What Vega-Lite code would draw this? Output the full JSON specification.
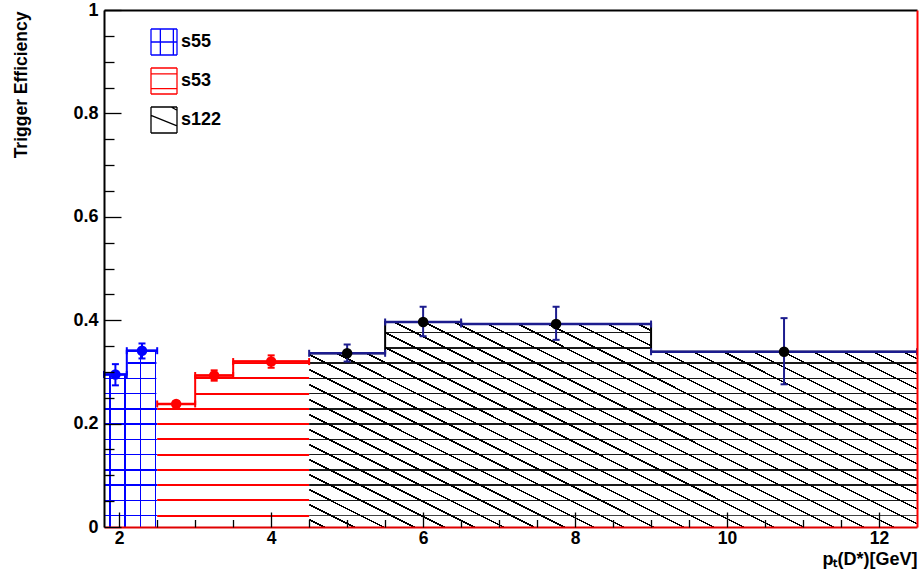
{
  "$schema": "https://vega.github.io/schema/vega-lite/v6.json",
  "width": 813,
  "height": 517,
  "autosize": {"type": "none"},
  "padding": {"left": 104, "top": 10, "right": 4, "bottom": 47},
  "background": "white",
  "config": {
    "view": {"stroke": null},
    "font": "Liberation Sans"
  },
  "datasets": {
    "bins": [
      {"series": "s55", "lo": 1.8, "hi": 2.1, "center": 1.95, "eff": 0.295, "low": 0.274, "high": 0.315},
      {"series": "s55", "lo": 2.1, "hi": 2.5, "center": 2.3, "eff": 0.341, "low": 0.326, "high": 0.355},
      {"series": "s53", "lo": 2.5, "hi": 3.0, "center": 2.75, "eff": 0.238, "low": 0.233, "high": 0.243},
      {"series": "s53", "lo": 3.0, "hi": 3.5, "center": 3.25, "eff": 0.293, "low": 0.283, "high": 0.303},
      {"series": "s53", "lo": 3.5, "hi": 4.5, "center": 4.0, "eff": 0.320, "low": 0.308, "high": 0.332},
      {"series": "s122", "lo": 4.5, "hi": 5.5, "center": 5.0, "eff": 0.336, "low": 0.320, "high": 0.353},
      {"series": "s122", "lo": 5.5, "hi": 6.5, "center": 6.0, "eff": 0.3965, "low": 0.369, "high": 0.426},
      {"series": "s122", "lo": 6.5, "hi": 9.0, "center": 7.75, "eff": 0.3926, "low": 0.362, "high": 0.426},
      {"series": "s122", "lo": 9.0, "hi": 12.5, "center": 10.75, "eff": 0.339, "low": 0.276, "high": 0.404}
    ],
    "regions": [
      {"series": "s55", "lo": 1.8, "hi": 2.5},
      {"series": "s53", "lo": 2.5, "hi": 4.5},
      {"series": "s122", "lo": 4.5, "hi": 12.5}
    ]
  },
  "layer": [
    {
      "data": {"name": "regions"},
      "mark": {"type": "point", "filled": false, "size": 676, "strokeWidth": 1.3, "opacity": 1, "clip": true},
      "encoding": {
        "x": {"field": "lo", "type": "quantitative", "scale": {"domain": [1.8, 12.5], "nice": false, "zero": false}, "axis": null},
        "y": {"datum": -1, "type": "quantitative", "scale": {"domain": [0, 1], "nice": false, "zero": false}, "axis": null},
        "color": {"field": "series", "type": "nominal",
          "scale": {"domain": ["s55", "s53", "s122"], "range": ["#0000ff", "#ff0000", "#000000"]},
          "legend": {"orient": "none", "legendX": 46, "legendY": 18, "title": null, "padding": 0,
            "symbolSize": 676, "symbolStrokeWidth": 1.3, "symbolFillColor": "white",
            "labelFont": "Liberation Sans", "labelFontWeight": "bold", "labelFontSize": 18, "labelColor": "black", "labelOffset": 3, "rowPadding": 7}},
        "shape": {"field": "series", "type": "nominal",
          "scale": {"domain": ["s55", "s53", "s122"], "range": [
            "M-1,-1H1M1,-1V1M1,1H-1M-1,1V-1M-0.28,-1V1M0.72,-1V1M-1,0H1",
            "M-1,-1H1M1,-1V1M1,1H-1M-1,1V-1M-1,-0.55H1M-1,0.58H1",
            "M-1,-1H1M1,-1V1M1,1H-1M-1,1V-1M-1,-0.35L1,0.45M0.55,-1L1,-0.75"]},
          "legend": {"orient": "none", "legendX": 46, "legendY": 18, "title": null, "padding": 0,
            "symbolSize": 676, "symbolStrokeWidth": 1.3, "symbolFillColor": "white",
            "labelFont": "Liberation Sans", "labelFontWeight": "bold", "labelFontSize": 18, "labelColor": "black", "labelOffset": 3, "rowPadding": 7}}
      }
    },
    {
      "data": {"name": "regions"},
      "transform": [{"filter": "datum.series === 's55'"}],
      "mark": {"type": "rect", "fill": {"gradient": "linear", "x1": 0, "y1": 1, "x2": 0, "y2": 0, "stops": [
        {"offset": 0, "color": "rgba(0,0,0,0)"},
        {"offset": 0.0204, "color": "rgba(0,0,0,0)"},{"offset": 0.0204, "color": "#0000ff"},{"offset": 0.0234, "color": "#0000ff"},{"offset": 0.0234, "color": "rgba(0,0,0,0)"},
        {"offset": 0.0499, "color": "rgba(0,0,0,0)"},{"offset": 0.0499, "color": "#0000ff"},{"offset": 0.0529, "color": "#0000ff"},{"offset": 0.0529, "color": "rgba(0,0,0,0)"},
        {"offset": 0.0794, "color": "rgba(0,0,0,0)"},{"offset": 0.0794, "color": "#0000ff"},{"offset": 0.0824, "color": "#0000ff"},{"offset": 0.0824, "color": "rgba(0,0,0,0)"},
        {"offset": 0.1089, "color": "rgba(0,0,0,0)"},{"offset": 0.1089, "color": "#0000ff"},{"offset": 0.1119, "color": "#0000ff"},{"offset": 0.1119, "color": "rgba(0,0,0,0)"},
        {"offset": 0.1384, "color": "rgba(0,0,0,0)"},{"offset": 0.1384, "color": "#0000ff"},{"offset": 0.1414, "color": "#0000ff"},{"offset": 0.1414, "color": "rgba(0,0,0,0)"},
        {"offset": 0.1679, "color": "rgba(0,0,0,0)"},{"offset": 0.1679, "color": "#0000ff"},{"offset": 0.1709, "color": "#0000ff"},{"offset": 0.1709, "color": "rgba(0,0,0,0)"},
        {"offset": 0.1974, "color": "rgba(0,0,0,0)"},{"offset": 0.1974, "color": "#0000ff"},{"offset": 0.2004, "color": "#0000ff"},{"offset": 0.2004, "color": "rgba(0,0,0,0)"},
        {"offset": 0.2269, "color": "rgba(0,0,0,0)"},{"offset": 0.2269, "color": "#0000ff"},{"offset": 0.2299, "color": "#0000ff"},{"offset": 0.2299, "color": "rgba(0,0,0,0)"},
        {"offset": 0.2564, "color": "rgba(0,0,0,0)"},{"offset": 0.2564, "color": "#0000ff"},{"offset": 0.2594, "color": "#0000ff"},{"offset": 0.2594, "color": "rgba(0,0,0,0)"},
        {"offset": 0.2859, "color": "rgba(0,0,0,0)"},{"offset": 0.2859, "color": "#0000ff"},{"offset": 0.2889, "color": "#0000ff"},{"offset": 0.2889, "color": "rgba(0,0,0,0)"},
        {"offset": 0.3154, "color": "rgba(0,0,0,0)"},{"offset": 0.3154, "color": "#0000ff"},{"offset": 0.3184, "color": "#0000ff"},{"offset": 0.3184, "color": "rgba(0,0,0,0)"},
        {"offset": 0.3449, "color": "rgba(0,0,0,0)"},{"offset": 0.3449, "color": "#0000ff"},{"offset": 0.3479, "color": "#0000ff"},{"offset": 0.3479, "color": "rgba(0,0,0,0)"},
        {"offset": 1, "color": "rgba(0,0,0,0)"}
      ]}},
      "encoding": {
        "x": {"field": "lo", "type": "quantitative", "scale": {"domain": [1.8, 12.5], "nice": false, "zero": false},
          "axis": {"orient": "bottom", "values": [2, 4, 6, 8, 10, 12], "ticks": false, "tickSize": 0, "grid": false, "domain": true, "domainColor": "#e00000", "domainWidth": 2, "labelFontSize": 17.5, "labelFontWeight": "bold", "labelColor": "black", "labelPadding": 2, "labelFlush": false, "zindex": 1,
            "title": "pₜ(D*)[GeV]", "titleFontSize": 18, "titleFontWeight": "bold", "titleColor": "black", "titleAnchor": "end", "titleAlign": "right", "titleBaseline": "alphabetic", "titleX": 813, "titleY": 37}},
        "x2": {"field": "hi"},
        "y": {"datum": 0, "type": "quantitative", "scale": {"domain": [0, 1], "nice": false, "zero": false},
          "axis": {"orient": "left", "values": [0, 0.2, 0.4, 0.6, 0.8, 1], "format": "~g", "ticks": false, "tickSize": 0, "grid": false, "domain": true, "domainColor": "black", "domainWidth": 2, "labelFontSize": 18, "labelFontWeight": "bold", "labelColor": "black", "labelPadding": 6, "labelFlush": false, "zindex": 1,
            "title": "Trigger Efficiency", "titleFontSize": 17.5, "titleFontWeight": "bold", "titleColor": "black", "titleAngle": -90, "titleAlign": "right", "titleBaseline": "middle", "titleX": -83, "titleY": 1}},
        "y2": {"datum": 1}
      }
    },
    {
      "data": {"name": "regions"},
      "transform": [{"filter": "datum.series === 's53'"}],
      "mark": {"type": "rect", "fill": {"gradient": "linear", "x1": 0, "y1": 1, "x2": 0, "y2": 0, "stops": [
        {"offset": 0, "color": "rgba(0,0,0,0)"},
        {"offset": 0.0199, "color": "rgba(0,0,0,0)"},{"offset": 0.0199, "color": "#ff0000"},{"offset": 0.0239, "color": "#ff0000"},{"offset": 0.0239, "color": "rgba(0,0,0,0)"},
        {"offset": 0.0494, "color": "rgba(0,0,0,0)"},{"offset": 0.0494, "color": "#ff0000"},{"offset": 0.0534, "color": "#ff0000"},{"offset": 0.0534, "color": "rgba(0,0,0,0)"},
        {"offset": 0.0789, "color": "rgba(0,0,0,0)"},{"offset": 0.0789, "color": "#ff0000"},{"offset": 0.0829, "color": "#ff0000"},{"offset": 0.0829, "color": "rgba(0,0,0,0)"},
        {"offset": 0.1084, "color": "rgba(0,0,0,0)"},{"offset": 0.1084, "color": "#ff0000"},{"offset": 0.1124, "color": "#ff0000"},{"offset": 0.1124, "color": "rgba(0,0,0,0)"},
        {"offset": 0.1379, "color": "rgba(0,0,0,0)"},{"offset": 0.1379, "color": "#ff0000"},{"offset": 0.1419, "color": "#ff0000"},{"offset": 0.1419, "color": "rgba(0,0,0,0)"},
        {"offset": 0.1674, "color": "rgba(0,0,0,0)"},{"offset": 0.1674, "color": "#ff0000"},{"offset": 0.1714, "color": "#ff0000"},{"offset": 0.1714, "color": "rgba(0,0,0,0)"},
        {"offset": 0.1969, "color": "rgba(0,0,0,0)"},{"offset": 0.1969, "color": "#ff0000"},{"offset": 0.2009, "color": "#ff0000"},{"offset": 0.2009, "color": "rgba(0,0,0,0)"},
        {"offset": 0.2264, "color": "rgba(0,0,0,0)"},{"offset": 0.2264, "color": "#ff0000"},{"offset": 0.2304, "color": "#ff0000"},{"offset": 0.2304, "color": "rgba(0,0,0,0)"},
        {"offset": 0.2559, "color": "rgba(0,0,0,0)"},{"offset": 0.2559, "color": "#ff0000"},{"offset": 0.2599, "color": "#ff0000"},{"offset": 0.2599, "color": "rgba(0,0,0,0)"},
        {"offset": 0.2854, "color": "rgba(0,0,0,0)"},{"offset": 0.2854, "color": "#ff0000"},{"offset": 0.2894, "color": "#ff0000"},{"offset": 0.2894, "color": "rgba(0,0,0,0)"},
        {"offset": 0.3149, "color": "rgba(0,0,0,0)"},{"offset": 0.3149, "color": "#ff0000"},{"offset": 0.3189, "color": "#ff0000"},{"offset": 0.3189, "color": "rgba(0,0,0,0)"},
        {"offset": 1, "color": "rgba(0,0,0,0)"}
      ]}},
      "encoding": {
        "x": {"field": "lo", "type": "quantitative", "scale": {"domain": [1.8, 12.5], "nice": false, "zero": false},
          "axis": {"orient": "bottom", "values": [2, 4, 6, 8, 10, 12], "labels": false, "domain": false, "ticks": true, "tickSize": -15, "tickColor": "black", "tickWidth": 1.3, "grid": false, "title": null, "zindex": 1}},
        "x2": {"field": "hi"},
        "y": {"datum": 0, "type": "quantitative", "scale": {"domain": [0, 1], "nice": false, "zero": false},
          "axis": {"orient": "left", "values": [0, 0.2, 0.4, 0.6, 0.8, 1], "labels": false, "domain": false, "ticks": true, "tickSize": -17, "tickColor": "black", "tickWidth": 1.3, "grid": false, "title": null, "zindex": 1}},
        "y2": {"datum": 1}
      }
    },
    {
      "data": {"name": "regions"},
      "transform": [{"filter": "datum.series === 's122'"}],
      "mark": {"type": "rect", "fill": {"gradient": "linear", "x1": 0, "y1": 1, "x2": 0, "y2": 0, "stops": [
        {"offset": 0, "color": "rgba(0,0,0,0)"},
        {"offset": 0.0204, "color": "rgba(0,0,0,0)"},{"offset": 0.0204, "color": "#444444"},{"offset": 0.0234, "color": "#444444"},{"offset": 0.0234, "color": "rgba(0,0,0,0)"},
        {"offset": 0.0499, "color": "rgba(0,0,0,0)"},{"offset": 0.0499, "color": "#1a1a1a"},{"offset": 0.0529, "color": "#1a1a1a"},{"offset": 0.0529, "color": "rgba(0,0,0,0)"},
        {"offset": 0.0794, "color": "rgba(0,0,0,0)"},{"offset": 0.0794, "color": "#1a1a1a"},{"offset": 0.0824, "color": "#1a1a1a"},{"offset": 0.0824, "color": "rgba(0,0,0,0)"},
        {"offset": 0.1089, "color": "rgba(0,0,0,0)"},{"offset": 0.1089, "color": "#1a1a1a"},{"offset": 0.1119, "color": "#1a1a1a"},{"offset": 0.1119, "color": "rgba(0,0,0,0)"},
        {"offset": 0.1384, "color": "rgba(0,0,0,0)"},{"offset": 0.1384, "color": "#1a1a1a"},{"offset": 0.1414, "color": "#1a1a1a"},{"offset": 0.1414, "color": "rgba(0,0,0,0)"},
        {"offset": 0.1679, "color": "rgba(0,0,0,0)"},{"offset": 0.1679, "color": "#1a1a1a"},{"offset": 0.1709, "color": "#1a1a1a"},{"offset": 0.1709, "color": "rgba(0,0,0,0)"},
        {"offset": 0.1974, "color": "rgba(0,0,0,0)"},{"offset": 0.1974, "color": "#1a1a1a"},{"offset": 0.2004, "color": "#1a1a1a"},{"offset": 0.2004, "color": "rgba(0,0,0,0)"},
        {"offset": 0.2269, "color": "rgba(0,0,0,0)"},{"offset": 0.2269, "color": "#1a1a1a"},{"offset": 0.2299, "color": "#1a1a1a"},{"offset": 0.2299, "color": "rgba(0,0,0,0)"},
        {"offset": 0.2564, "color": "rgba(0,0,0,0)"},{"offset": 0.2564, "color": "#1a1a1a"},{"offset": 0.2594, "color": "#1a1a1a"},{"offset": 0.2594, "color": "rgba(0,0,0,0)"},
        {"offset": 0.2859, "color": "rgba(0,0,0,0)"},{"offset": 0.2859, "color": "#1a1a1a"},{"offset": 0.2889, "color": "#1a1a1a"},{"offset": 0.2889, "color": "rgba(0,0,0,0)"},
        {"offset": 0.3154, "color": "rgba(0,0,0,0)"},{"offset": 0.3154, "color": "#1a1a1a"},{"offset": 0.3184, "color": "#1a1a1a"},{"offset": 0.3184, "color": "rgba(0,0,0,0)"},
        {"offset": 0.3449, "color": "rgba(0,0,0,0)"},{"offset": 0.3449, "color": "#1a1a1a"},{"offset": 0.3479, "color": "#1a1a1a"},{"offset": 0.3479, "color": "rgba(0,0,0,0)"},
        {"offset": 0.3744, "color": "rgba(0,0,0,0)"},{"offset": 0.3744, "color": "#1a1a1a"},{"offset": 0.3774, "color": "#1a1a1a"},{"offset": 0.3774, "color": "rgba(0,0,0,0)"},
        {"offset": 1, "color": "rgba(0,0,0,0)"}
      ]}},
      "encoding": {
        "x": {"field": "lo", "type": "quantitative", "scale": {"domain": [1.8, 12.5], "nice": false, "zero": false},
          "axis": {"orient": "bottom", "values": [2.5, 3, 3.5, 4.5, 5, 5.5, 6.5, 7, 7.5, 8.5, 9, 9.5, 10.5, 11, 11.5], "labels": false, "domain": false, "ticks": true, "tickSize": -7.5, "tickColor": "black", "tickWidth": 1.3, "grid": false, "title": null, "zindex": 1}},
        "x2": {"field": "hi"},
        "y": {"datum": 0, "type": "quantitative", "scale": {"domain": [0, 1], "nice": false, "zero": false},
          "axis": {"orient": "left", "values": [0.05, 0.1, 0.15, 0.25, 0.3, 0.35, 0.45, 0.5, 0.55, 0.65, 0.7, 0.75, 0.85, 0.9, 0.95], "labels": false, "domain": false, "ticks": true, "tickSize": -10, "tickColor": "black", "tickWidth": 1.3, "grid": false, "title": null, "zindex": 1}},
        "y2": {"datum": 1}
      }
    },
    {
      "data": {"name": "regions"},
      "transform": [{"filter": "datum.series === 's55'"}],
      "mark": {"type": "rect", "fill": {"gradient": "linear", "x1": 0, "y1": 0, "x2": 1, "y2": 0, "stops": [
        {"offset": 0, "color": "rgba(0,0,0,0)"},
        {"offset": 0.097, "color": "rgba(0,0,0,0)"},{"offset": 0.097, "color": "#0000ff"},{"offset": 0.125, "color": "#0000ff"},{"offset": 0.125, "color": "rgba(0,0,0,0)"},
        {"offset": 0.379, "color": "rgba(0,0,0,0)"},{"offset": 0.379, "color": "#0000ff"},{"offset": 0.407, "color": "#0000ff"},{"offset": 0.407, "color": "rgba(0,0,0,0)"},
        {"offset": 0.674, "color": "rgba(0,0,0,0)"},{"offset": 0.674, "color": "#0000ff"},{"offset": 0.702, "color": "#0000ff"},{"offset": 0.702, "color": "rgba(0,0,0,0)"},
        {"offset": 0.956, "color": "rgba(0,0,0,0)"},{"offset": 0.956, "color": "#0000ff"},{"offset": 0.984, "color": "#0000ff"},{"offset": 0.984, "color": "rgba(0,0,0,0)"},
        {"offset": 1, "color": "rgba(0,0,0,0)"}
      ]}},
      "encoding": {
        "x": {"field": "lo", "type": "quantitative", "scale": {"domain": [1.8, 12.5], "nice": false, "zero": false},
          "axis": {"orient": "top", "labels": false, "ticks": false, "grid": false, "domain": true, "domainColor": "black", "domainWidth": 2, "title": null, "zindex": 1}},
        "x2": {"field": "hi"},
        "y": {"datum": 0, "type": "quantitative", "scale": {"domain": [0, 1], "nice": false, "zero": false},
          "axis": {"orient": "right", "labels": false, "ticks": false, "grid": false, "domain": true, "domainColor": "#ff0000", "domainWidth": 2, "title": null, "zindex": 1}},
        "y2": {"datum": 1}
      }
    },
    {
      "data": {"name": "regions"},
      "transform": [{"filter": "datum.series === 's122'"}],
      "mark": {"type": "rect", "fill": {"gradient": "linear", "x1": 0, "y1": 1, "x2": 0.694, "y2": -0.18, "stops": [
        {"offset": 0, "color": "rgba(0,0,0,0)"},
        {"offset": 0.0080, "color": "rgba(0,0,0,0)"},{"offset": 0.0080, "color": "#000000"},{"offset": 0.0100, "color": "#000000"},{"offset": 0.0100, "color": "rgba(0,0,0,0)"},
        {"offset": 0.0263, "color": "rgba(0,0,0,0)"},{"offset": 0.0263, "color": "#000000"},{"offset": 0.0283, "color": "#000000"},{"offset": 0.0283, "color": "rgba(0,0,0,0)"},
        {"offset": 0.0445, "color": "rgba(0,0,0,0)"},{"offset": 0.0445, "color": "#000000"},{"offset": 0.0465, "color": "#000000"},{"offset": 0.0465, "color": "rgba(0,0,0,0)"},
        {"offset": 0.0628, "color": "rgba(0,0,0,0)"},{"offset": 0.0628, "color": "#000000"},{"offset": 0.0648, "color": "#000000"},{"offset": 0.0648, "color": "rgba(0,0,0,0)"},
        {"offset": 0.0811, "color": "rgba(0,0,0,0)"},{"offset": 0.0811, "color": "#000000"},{"offset": 0.0831, "color": "#000000"},{"offset": 0.0831, "color": "rgba(0,0,0,0)"},
        {"offset": 0.0994, "color": "rgba(0,0,0,0)"},{"offset": 0.0994, "color": "#000000"},{"offset": 0.1014, "color": "#000000"},{"offset": 0.1014, "color": "rgba(0,0,0,0)"},
        {"offset": 0.1176, "color": "rgba(0,0,0,0)"},{"offset": 0.1176, "color": "#000000"},{"offset": 0.1196, "color": "#000000"},{"offset": 0.1196, "color": "rgba(0,0,0,0)"},
        {"offset": 0.1359, "color": "rgba(0,0,0,0)"},{"offset": 0.1359, "color": "#000000"},{"offset": 0.1379, "color": "#000000"},{"offset": 0.1379, "color": "rgba(0,0,0,0)"},
        {"offset": 0.1542, "color": "rgba(0,0,0,0)"},{"offset": 0.1542, "color": "#000000"},{"offset": 0.1562, "color": "#000000"},{"offset": 0.1562, "color": "rgba(0,0,0,0)"},
        {"offset": 0.1724, "color": "rgba(0,0,0,0)"},{"offset": 0.1724, "color": "#000000"},{"offset": 0.1744, "color": "#000000"},{"offset": 0.1744, "color": "rgba(0,0,0,0)"},
        {"offset": 0.1907, "color": "rgba(0,0,0,0)"},{"offset": 0.1907, "color": "#000000"},{"offset": 0.1927, "color": "#000000"},{"offset": 0.1927, "color": "rgba(0,0,0,0)"},
        {"offset": 0.2090, "color": "rgba(0,0,0,0)"},{"offset": 0.2090, "color": "#000000"},{"offset": 0.2110, "color": "#000000"},{"offset": 0.2110, "color": "rgba(0,0,0,0)"},
        {"offset": 0.2272, "color": "rgba(0,0,0,0)"},{"offset": 0.2272, "color": "#000000"},{"offset": 0.2292, "color": "#000000"},{"offset": 0.2292, "color": "rgba(0,0,0,0)"},
        {"offset": 0.2455, "color": "rgba(0,0,0,0)"},{"offset": 0.2455, "color": "#000000"},{"offset": 0.2475, "color": "#000000"},{"offset": 0.2475, "color": "rgba(0,0,0,0)"},
        {"offset": 0.2638, "color": "rgba(0,0,0,0)"},{"offset": 0.2638, "color": "#000000"},{"offset": 0.2658, "color": "#000000"},{"offset": 0.2658, "color": "rgba(0,0,0,0)"},
        {"offset": 0.2821, "color": "rgba(0,0,0,0)"},{"offset": 0.2821, "color": "#000000"},{"offset": 0.2841, "color": "#000000"},{"offset": 0.2841, "color": "rgba(0,0,0,0)"},
        {"offset": 0.3003, "color": "rgba(0,0,0,0)"},{"offset": 0.3003, "color": "#000000"},{"offset": 0.3023, "color": "#000000"},{"offset": 0.3023, "color": "rgba(0,0,0,0)"},
        {"offset": 0.3186, "color": "rgba(0,0,0,0)"},{"offset": 0.3186, "color": "#000000"},{"offset": 0.3206, "color": "#000000"},{"offset": 0.3206, "color": "rgba(0,0,0,0)"},
        {"offset": 0.3369, "color": "rgba(0,0,0,0)"},{"offset": 0.3369, "color": "#000000"},{"offset": 0.3389, "color": "#000000"},{"offset": 0.3389, "color": "rgba(0,0,0,0)"},
        {"offset": 0.3551, "color": "rgba(0,0,0,0)"},{"offset": 0.3551, "color": "#000000"},{"offset": 0.3571, "color": "#000000"},{"offset": 0.3571, "color": "rgba(0,0,0,0)"},
        {"offset": 0.3734, "color": "rgba(0,0,0,0)"},{"offset": 0.3734, "color": "#000000"},{"offset": 0.3754, "color": "#000000"},{"offset": 0.3754, "color": "rgba(0,0,0,0)"},
        {"offset": 0.3917, "color": "rgba(0,0,0,0)"},{"offset": 0.3917, "color": "#000000"},{"offset": 0.3937, "color": "#000000"},{"offset": 0.3937, "color": "rgba(0,0,0,0)"},
        {"offset": 0.4099, "color": "rgba(0,0,0,0)"},{"offset": 0.4099, "color": "#000000"},{"offset": 0.4119, "color": "#000000"},{"offset": 0.4119, "color": "rgba(0,0,0,0)"},
        {"offset": 0.4282, "color": "rgba(0,0,0,0)"},{"offset": 0.4282, "color": "#000000"},{"offset": 0.4302, "color": "#000000"},{"offset": 0.4302, "color": "rgba(0,0,0,0)"},
        {"offset": 0.4465, "color": "rgba(0,0,0,0)"},{"offset": 0.4465, "color": "#000000"},{"offset": 0.4485, "color": "#000000"},{"offset": 0.4485, "color": "rgba(0,0,0,0)"},
        {"offset": 0.4648, "color": "rgba(0,0,0,0)"},{"offset": 0.4648, "color": "#000000"},{"offset": 0.4668, "color": "#000000"},{"offset": 0.4668, "color": "rgba(0,0,0,0)"},
        {"offset": 0.4830, "color": "rgba(0,0,0,0)"},{"offset": 0.4830, "color": "#000000"},{"offset": 0.4850, "color": "#000000"},{"offset": 0.4850, "color": "rgba(0,0,0,0)"},
        {"offset": 0.5013, "color": "rgba(0,0,0,0)"},{"offset": 0.5013, "color": "#000000"},{"offset": 0.5033, "color": "#000000"},{"offset": 0.5033, "color": "rgba(0,0,0,0)"},
        {"offset": 0.5196, "color": "rgba(0,0,0,0)"},{"offset": 0.5196, "color": "#000000"},{"offset": 0.5216, "color": "#000000"},{"offset": 0.5216, "color": "rgba(0,0,0,0)"},
        {"offset": 0.5378, "color": "rgba(0,0,0,0)"},{"offset": 0.5378, "color": "#000000"},{"offset": 0.5398, "color": "#000000"},{"offset": 0.5398, "color": "rgba(0,0,0,0)"},
        {"offset": 0.5561, "color": "rgba(0,0,0,0)"},{"offset": 0.5561, "color": "#000000"},{"offset": 0.5581, "color": "#000000"},{"offset": 0.5581, "color": "rgba(0,0,0,0)"},
        {"offset": 0.5744, "color": "rgba(0,0,0,0)"},{"offset": 0.5744, "color": "#000000"},{"offset": 0.5764, "color": "#000000"},{"offset": 0.5764, "color": "rgba(0,0,0,0)"},
        {"offset": 0.5926, "color": "rgba(0,0,0,0)"},{"offset": 0.5926, "color": "#000000"},{"offset": 0.5946, "color": "#000000"},{"offset": 0.5946, "color": "rgba(0,0,0,0)"},
        {"offset": 0.6109, "color": "rgba(0,0,0,0)"},{"offset": 0.6109, "color": "#000000"},{"offset": 0.6129, "color": "#000000"},{"offset": 0.6129, "color": "rgba(0,0,0,0)"},
        {"offset": 0.6292, "color": "rgba(0,0,0,0)"},{"offset": 0.6292, "color": "#000000"},{"offset": 0.6312, "color": "#000000"},{"offset": 0.6312, "color": "rgba(0,0,0,0)"},
        {"offset": 1, "color": "rgba(0,0,0,0)"}
      ]}},
      "encoding": {
        "x": {"field": "lo", "type": "quantitative", "scale": {"domain": [1.8, 12.5], "nice": false, "zero": false}, "axis": null},
        "x2": {"field": "hi"},
        "y": {"datum": 0, "type": "quantitative", "scale": {"domain": [0, 1], "nice": false, "zero": false}, "axis": null},
        "y2": {"datum": 1}
      }
    },
    {
      "data": {"name": "bins"},
      "mark": {"type": "rect", "fill": "white", "stroke": "white", "strokeWidth": 1.5},
      "encoding": {
        "x": {"field": "lo", "type": "quantitative", "scale": {"domain": [1.8, 12.5], "nice": false, "zero": false}, "axis": null},
        "x2": {"field": "hi"},
        "y": {"field": "eff", "type": "quantitative", "scale": {"domain": [0, 1], "nice": false, "zero": false}, "axis": null},
        "y2": {"datum": 1}
      }
    },
    {
      "data": {"name": "bins"},
      "transform": [{"fold": ["lo", "hi"], "as": ["edge", "xpos"]}],
      "mark": {"type": "line", "strokeWidth": 2, "interpolate": "linear"},
      "encoding": {
        "x": {"field": "xpos", "type": "quantitative", "scale": {"domain": [1.8, 12.5], "nice": false, "zero": false}, "axis": null},
        "y": {"field": "eff", "type": "quantitative", "scale": {"domain": [0, 1], "nice": false, "zero": false}, "axis": null},
        "order": [{"field": "xpos", "type": "quantitative"}, {"field": "edge", "type": "nominal"}],
        "color": {"field": "series", "type": "nominal",
          "scale": {"domain": ["s55", "s53", "s122"], "range": ["#0000ff", "#ff0000", "#000000"]},
          "legend": null}
      }
    },
    {
      "data": {"name": "bins"},
      "mark": {"type": "rule", "strokeWidth": 2.5},
      "encoding": {
        "x": {"field": "lo", "type": "quantitative", "scale": {"domain": [1.8, 12.5], "nice": false, "zero": false}, "axis": null},
        "x2": {"field": "hi"},
        "y": {"field": "eff", "type": "quantitative", "scale": {"domain": [0, 1], "nice": false, "zero": false}, "axis": null},
        "stroke": {"field": "series", "type": "nominal", "scale": {"domain": ["s55", "s53", "s122"], "range": ["#0000ff", "#ff0000", "#1c1c8e"]}, "legend": null}
      }
    },
    {
      "data": {"name": "bins"},
      "mark": {"type": "rule", "strokeWidth": 2},
      "encoding": {
        "x": {"field": "center", "type": "quantitative", "scale": {"domain": [1.8, 12.5], "nice": false, "zero": false}, "axis": null},
        "y": {"field": "low", "type": "quantitative", "scale": {"domain": [0, 1], "nice": false, "zero": false}, "axis": null},
        "y2": {"field": "high"},
        "stroke": {"field": "series", "type": "nominal", "scale": {"domain": ["s55", "s53", "s122"], "range": ["#0000ff", "#ff0000", "#1c1c8e"]}, "legend": null}
      }
    },
    {
      "data": {"name": "bins"},
      "transform": [{"fold": ["low", "high"], "as": ["bound", "ypos"]}],
      "mark": {"type": "rule", "strokeWidth": 2, "xOffset": -3.5, "x2Offset": 3.5},
      "encoding": {
        "x": {"field": "center", "type": "quantitative", "scale": {"domain": [1.8, 12.5], "nice": false, "zero": false}, "axis": null},
        "x2": {"field": "center"},
        "y": {"field": "ypos", "type": "quantitative", "scale": {"domain": [0, 1], "nice": false, "zero": false}, "axis": null},
        "stroke": {"field": "series", "type": "nominal", "scale": {"domain": ["s55", "s53", "s122"], "range": ["#0000ff", "#ff0000", "#1c1c8e"]}, "legend": null}
      }
    },
    {
      "data": {"name": "bins"},
      "transform": [{"fold": ["lo", "hi"], "as": ["edge", "xpos"]}],
      "mark": {"type": "rule", "strokeWidth": 2, "yOffset": -3.5, "y2Offset": 3.5},
      "encoding": {
        "x": {"field": "xpos", "type": "quantitative", "scale": {"domain": [1.8, 12.5], "nice": false, "zero": false}, "axis": null},
        "y": {"field": "eff", "type": "quantitative", "scale": {"domain": [0, 1], "nice": false, "zero": false}, "axis": null},
        "y2": {"field": "eff"},
        "stroke": {"field": "series", "type": "nominal", "scale": {"domain": ["s55", "s53", "s122"], "range": ["#0000ff", "#ff0000", "#1c1c8e"]}, "legend": null}
      }
    },
    {
      "data": {"name": "bins"},
      "mark": {"type": "point", "filled": true, "size": 110, "opacity": 1, "shape": "circle"},
      "encoding": {
        "x": {"field": "center", "type": "quantitative", "scale": {"domain": [1.8, 12.5], "nice": false, "zero": false}, "axis": null},
        "y": {"field": "eff", "type": "quantitative", "scale": {"domain": [0, 1], "nice": false, "zero": false}, "axis": null},
        "fill": {"field": "series", "type": "nominal", "scale": {"domain": ["s55", "s53", "s122"], "range": ["#0000ff", "#ff0000", "#000000"]}, "legend": null}
      }
    }
  ],
  "resolve": {"axis": {"x": "independent", "y": "independent"}}
}
